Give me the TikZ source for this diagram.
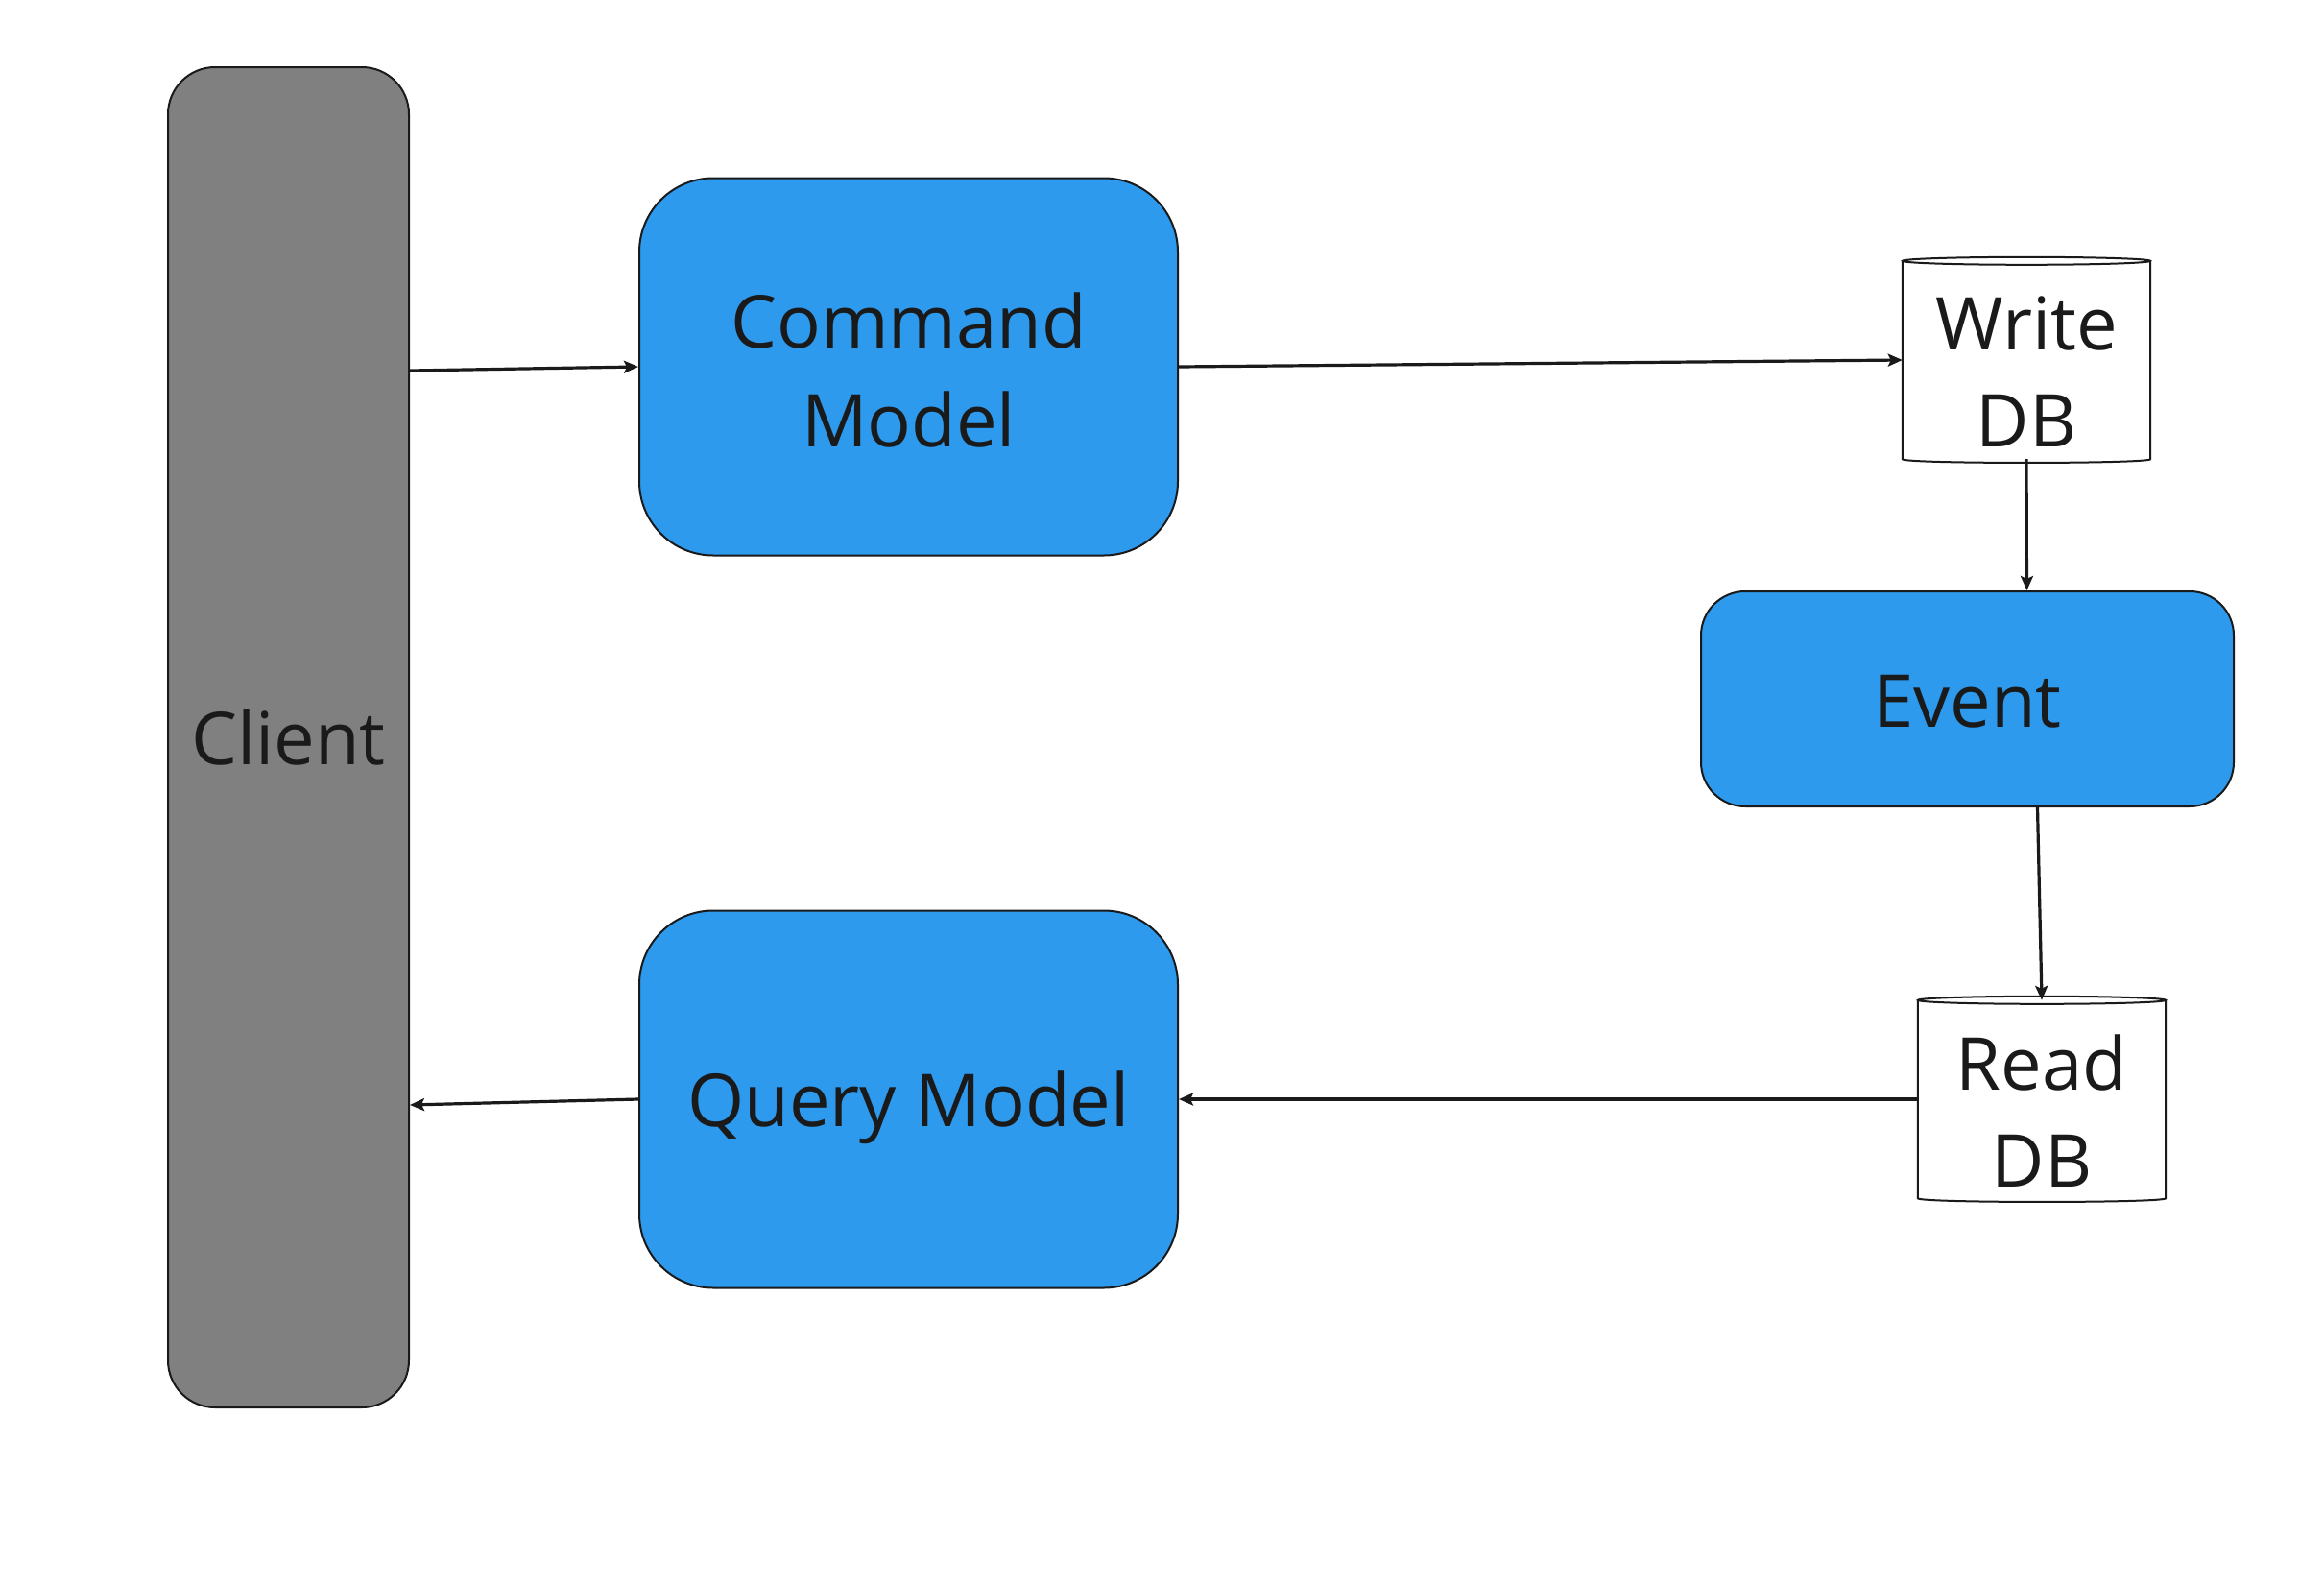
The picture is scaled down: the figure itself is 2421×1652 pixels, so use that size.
\documentclass[tikz,border=0pt]{standalone}
\usepackage{fontspec}
\setmainfont{Open Sans}
\usetikzlibrary{arrows.meta}
\definecolor{boxblue}{HTML}{2D9AEE}
\definecolor{boxgray}{HTML}{808080}
\definecolor{ink}{HTML}{1A1A1A}
\tikzset{
  basebox/.style={draw=ink, line width=2pt, inner sep=0pt, align=center, text=ink,
    font=\fontsize{76}{103}\selectfont},
  bluebox/.style={basebox, fill=boxblue},
  graybox/.style={basebox, fill=boxgray, minimum width=251pt, minimum height=1396pt, rounded corners=49pt},
  modelbox/.style={bluebox, minimum width=561pt, minimum height=393pt, rounded corners=77pt},
  eventbox/.style={bluebox, minimum width=555pt, minimum height=224pt, rounded corners=46pt},
  dbnode/.style={inner sep=0pt, fill=white, minimum width=258pt, minimum height=206pt},
  dbtext/.style={inner sep=0pt, align=center, text=ink, font=\fontsize{76}{101}\selectfont},
  dbline/.style={draw=ink, line width=2pt},
  conn/.style={draw=ink, line width=3.2pt, -{Stealth[length=15pt, width=13pt, inset=3pt]}},
}
\newcommand{\dbshape}[1]{%
  \draw[dbline] (#1.north west) -- (#1.south west)
    .. controls ([yshift=-5pt]#1.south west) and ([yshift=-5pt]#1.south east) .. (#1.south east)
    -- (#1.north east);
  \draw[dbline] (#1.north) ellipse [x radius=129pt, y radius=4pt];
}
\begin{document}
\begin{tikzpicture}[x=1pt, y=-1pt]
\useasboundingbox[fill=white] (0,0) rectangle (2421,1652);

\node[graybox] (client) at (300.5,768) {Client};
\node[modelbox] (cmd) at (946.5,382) {};
\node[bluebox, draw=none, fill=none] (cmdtext) at (946.5,385) {Command\\Model};
\node[modelbox, text depth=0pt] (query) at (946.5,1145) {Query Model};
\node[eventbox] (event) at (2049.5,728) {};
\node[bluebox, draw=none, fill=none] (eventtext) at (2049.5,731) {Event};
\node[dbnode] (wdb) at (2111,375) {};
\dbshape{wdb}
\node[dbtext] (wdbtext) at (2111,387) {Write\\DB};
\node[dbnode] (rdb) at (2127,1145) {};
\dbshape{rdb}
\node[dbtext] (rdbtext) at (2127,1157) {Read\\DB};

\draw[conn] ([yshift=382pt]client.east) -- (cmd.west);
\draw[conn] (cmd.east) -- (wdb.west);
\draw[conn] (wdb.south) -- ([xshift=62pt]event.north);
\draw[conn] ([xshift=73pt]event.south) -- (rdb.north);
\draw[conn] (rdb.west) -- (query.east);
\draw[conn] (query.west) -- ([yshift=-383pt]client.east);
\end{tikzpicture}
\end{document}
